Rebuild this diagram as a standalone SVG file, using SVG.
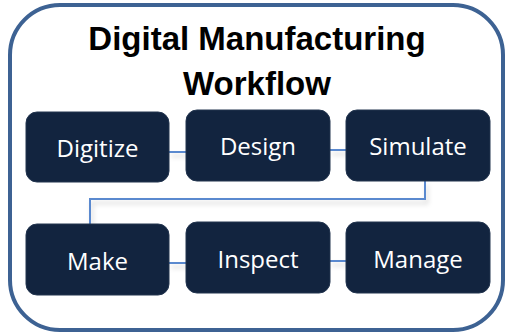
<svg xmlns="http://www.w3.org/2000/svg" width="506" height="335" viewBox="0 0 506 335">
  <defs>
    <filter id="soft" x="-10%" y="-30%" width="120%" height="200%">
      <feGaussianBlur in="SourceAlpha" stdDeviation="2.5"/>
      <feOffset dx="2" dy="4" result="b"/>
      <feFlood flood-color="#000" flood-opacity="0.18"/>
      <feComposite in2="b" operator="in"/>
      <feMerge>
        <feMergeNode/>
        <feMergeNode in="SourceGraphic"/>
      </feMerge>
    </filter>
  </defs>
  <style>
    .frame { fill: #ffffff; stroke: #3d6293; stroke-width: 4; }
    .title { font-family: "Liberation Sans", Arial, sans-serif; font-weight: bold; font-size: 33px; fill: #000000; text-anchor: middle; }
    .box { fill: #12243f; stroke: #23354f; stroke-width: 1; }
    .label { font-family: "Open Sans", "Liberation Sans", sans-serif; font-size: 24px; fill: #ffffff; text-anchor: middle; }
    .link { fill: none; stroke: #5a89cf; stroke-width: 2; }
  </style>

  <rect class="frame" x="10" y="5" width="493" height="325" rx="50" ry="50"/>

  <g id="title">
    <text class="title" x="257" y="50">Digital Manufacturing</text>
    <text class="title" x="257" y="95">Workflow</text>
  </g>

  <g id="connectors" filter="url(#soft)">
    <line class="link" x1="169" y1="152" x2="186" y2="152"/>
    <line class="link" x1="330" y1="150" x2="346" y2="150"/>
    <polyline class="link" points="425,181 425,199 90,199 90,224"/>
    <line class="link" x1="169" y1="263" x2="186" y2="263"/>
    <line class="link" x1="330" y1="261" x2="346" y2="261"/>
  </g>

  <g id="digitize">
    <rect class="box" x="26" y="112" width="143" height="70" rx="11"/>
    <text class="label" x="97.5" y="157">Digitize</text>
  </g>
  <g id="design">
    <rect class="box" x="186" y="110" width="144" height="71" rx="11"/>
    <text class="label" x="258" y="155">Design</text>
  </g>
  <g id="simulate">
    <rect class="box" x="346" y="110" width="144" height="71" rx="11"/>
    <text class="label" x="418" y="155">Simulate</text>
  </g>
  <g id="make">
    <rect class="box" x="26" y="224" width="143" height="71" rx="11"/>
    <text class="label" x="97.5" y="270">Make</text>
  </g>
  <g id="inspect">
    <rect class="box" x="186" y="222" width="144" height="71" rx="11"/>
    <text class="label" x="258" y="268">Inspect</text>
  </g>
  <g id="manage">
    <rect class="box" x="346" y="222" width="144" height="71" rx="11"/>
    <text class="label" x="418" y="268">Manage</text>
  </g>
</svg>
